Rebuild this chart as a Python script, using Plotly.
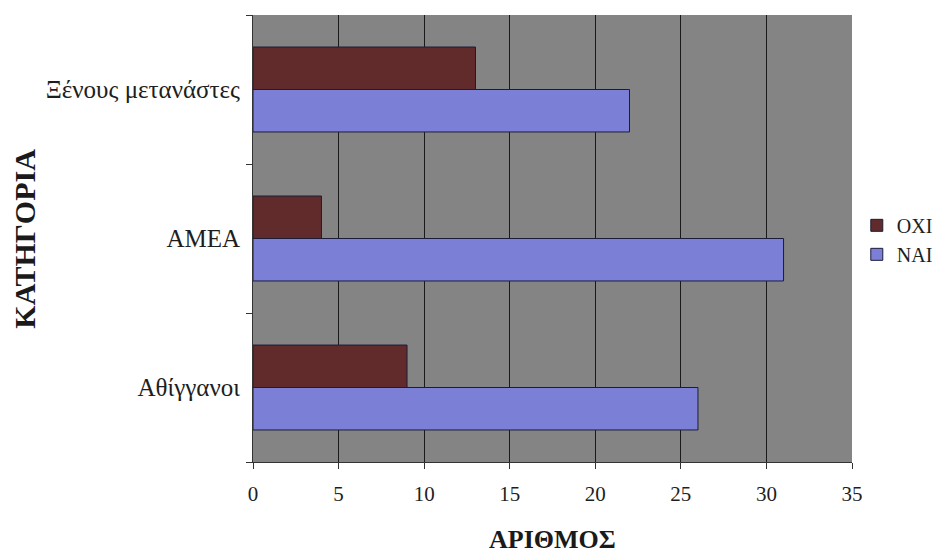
import plotly.graph_objects as go

categories = ["Αθίγγανοι", "ΑΜΕΑ", "Ξένους μετανάστες"]
nai = [26, 31, 22]
oxi = [9, 4, 13]
x_ticks = [0, 5, 10, 15, 20, 25, 30, 35]

SERIF = '"Liberation Serif", "Times New Roman", Times, serif'

fig = go.Figure()
fig.add_trace(go.Bar(
    y=categories, x=nai, name="NAI", orientation="h",
    marker=dict(color="#7b7fd6", line=dict(color="#1c1c3a", width=1)),
))
fig.add_trace(go.Bar(
    y=categories, x=oxi, name="OXI", orientation="h",
    marker=dict(color="#622b2b", line=dict(color="#1c1c3a", width=1)),
))

# page body has an 8px margin, so the figure is shifted to match
fig.update_layout(
    width=939, height=546,
    margin=dict(l=245, r=95, t=7, b=92),
    barmode="group", bargap=0.43, bargroupgap=0,
    plot_bgcolor="#848484", paper_bgcolor="#ffffff",
    font=dict(family=SERIF, size=20, color="#1e1e1e"),
    legend=dict(x=1.008, y=0.497, xanchor="left", yanchor="middle",
                traceorder="reversed",
                font=dict(family=SERIF, size=20, color="#1e1e1e"),
                itemwidth=30, tracegroupgap=0),
    xaxis=dict(range=[0, 35], tickvals=x_ticks, showgrid=True,
               gridcolor="#1a1a1a", gridwidth=1, zeroline=False,
               showline=True, linecolor="#333333", linewidth=1,
               ticks="outside", ticklen=6, tickcolor="#333333",
               ticklabelstandoff=7,
               tickfont=dict(family=SERIF, size=21, color="#1e1e1e")),
    yaxis=dict(type="category", categoryorder="array", categoryarray=categories,
               showgrid=False, showline=True, linecolor="#333333", linewidth=1,
               ticks="outside", tickson="boundaries", ticklen=6,
               tickcolor="#333333", ticklabelstandoff=7,
               tickfont=dict(family=SERIF, size=25, color="#1e1e1e")),
    annotations=[
        dict(text="<b>ΑΡΙΘΜΟΣ</b>", x=0.5, y=-0.174, xref="paper", yref="paper",
             xanchor="center", yanchor="middle", showarrow=False,
             font=dict(family=SERIF, size=26, color="#1a1a1a")),
        dict(text="<b>ΚΑΤΗΓΟΡΙΑ</b>", x=-0.382, y=0.5, xref="paper", yref="paper",
             xanchor="center", yanchor="middle", showarrow=False, textangle=-90,
             font=dict(family=SERIF, size=30, color="#1a1a1a")),
    ],
)

fig.write_html("out.html")
